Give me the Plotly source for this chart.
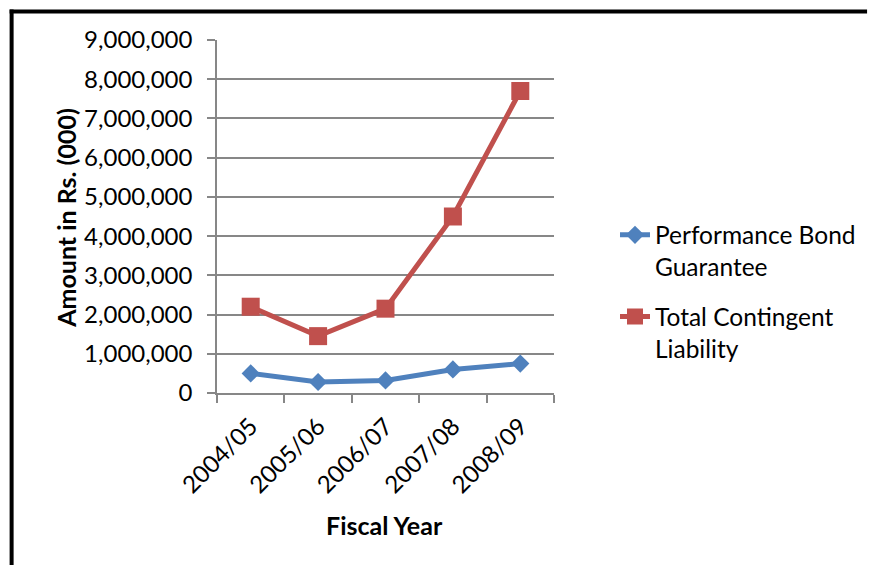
import plotly.graph_objects as go

# Fiscal years and amounts (Rs. thousands)
years = ["2004/05", "2005/06", "2006/07", "2007/08", "2008/09"]
performance_bond = [500000, 280000, 320000, 600000, 750000]
total_contingent = [2200000, 1450000, 2150000, 4500000, 7700000]
y_ticks = [0, 1000000, 2000000, 3000000, 4000000, 5000000, 6000000, 7000000, 8000000, 9000000]

W, H = 872, 565
# plot-area margins in pixels
ML, MR, MT, MB = 217, 317, 39.5, 172.3
PW, PH = W - ML - MR, H - MT - MB

def px_x(x):
    return (x - ML) / PW

def px_y(y):
    return (H - MB - y) / PH

FONT = "Lato, 'Open Sans', sans-serif"
BLUE = "#4F81BD"
RED = "#C0504D"
GRID = "#878787"

fig = go.Figure()
fig.add_trace(go.Scatter(
    x=years, y=performance_bond, name="Performance Bond<br>Guarantee",
    legendgroup="pbg", mode="lines+markers",
    line=dict(color=BLUE, width=5),
    marker=dict(symbol="diamond", size=14, color=BLUE),
))
fig.add_trace(go.Scatter(
    x=years, y=total_contingent, name="Total Contingent<br>Liability",
    legendgroup="tcl", mode="lines+markers",
    line=dict(color=RED, width=5),
    marker=dict(symbol="square", size=18, color=RED),
))

fig.update_layout(
    width=W, height=H, autosize=False,
    margin=dict(l=ML, r=MR, t=MT, b=MB, pad=0),
    paper_bgcolor="white", plot_bgcolor="white",
    font=dict(family=FONT, size=24, color="black"),
    showlegend=True,
    legend=dict(
        x=px_x(615), y=px_y(212), xanchor="left", yanchor="top",
        valign="top", tracegroupgap=15, itemwidth=30,
        font=dict(family=FONT, size=24.5, color="black"),
        bgcolor="rgba(0,0,0,0)",
    ),
    xaxis=dict(
        type="category", range=[-0.5, 4.5],
        showline=True, linecolor=GRID, linewidth=1.5,
        ticks="outside", tickson="boundaries", ticklen=8, tickcolor=GRID, tickwidth=1.5,
        tickangle=-45, showgrid=False, zeroline=False,
        tickfont=dict(family=FONT, size=24),
        ticklabelstandoff=8,
    ),
    yaxis=dict(
        range=[0, 9000000], tickvals=y_ticks, tickformat=",d",
        showline=True, linecolor=GRID, linewidth=1.5,
        ticks="outside", ticklen=8, tickcolor=GRID, tickwidth=1.5,
        showgrid=True, gridcolor=GRID, gridwidth=1.5, zeroline=False,
        tickfont=dict(family=FONT, size=24),
        ticklabelstandoff=10,
    ),
    annotations=[
        dict(text="<b>Amount in Rs. (000)</b>", textangle=-90,
             x=px_x(66), y=px_y(217), xref="paper", yref="paper",
             xanchor="center", yanchor="middle", showarrow=False,
             font=dict(family=FONT, size=25)),
        dict(text="<b>Fiscal Year</b>",
             x=px_x(385), y=px_y(525), xref="paper", yref="paper",
             xanchor="center", yanchor="middle", showarrow=False,
             font=dict(family=FONT, size=25)),
    ],
    shapes=[
        # chart frame: left and top rules
        dict(type="line", xref="paper", yref="paper",
             x0=px_x(11), x1=px_x(11), y0=px_y(9), y1=px_y(H + 5),
             line=dict(color="black", width=4)),
        dict(type="line", xref="paper", yref="paper",
             x0=px_x(9), x1=px_x(869), y0=px_y(11), y1=px_y(11),
             line=dict(color="black", width=4)),
    ],
)

fig.write_html("out.html")
